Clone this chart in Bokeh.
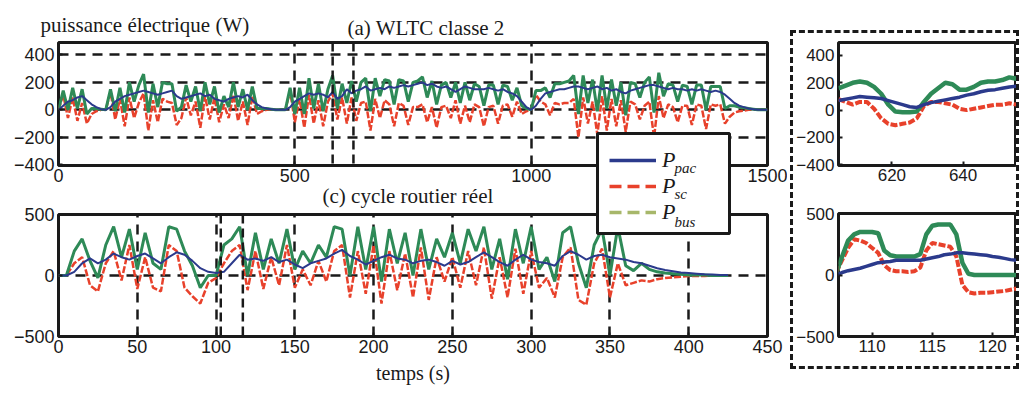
from bokeh.plotting import figure
from bokeh.models import (Range1d, Label, Legend, LegendItem, Span,
                          FixedTicker, BoxAnnotation)
from bokeh.layouts import column, row
from bokeh.embed import file_html
from bokeh.resources import INLINE
from bokeh.core.properties import value

# ---------------- data ----------------
# (a) WLTC classe 2, one sample every 10 s
wltc_t = list(range(0, 1501, 10))
wltc_pac = [0, 30, 60, 70, 90, 100, 70, 40, 20, 5,
            0, 20, 60, 80, 100, 110, 120, 130, 140, 130,
            120, 110, 120, 130, 140, 100, 80, 90, 100, 110,
            120, 100, 110, 80, 70, 60, 80, 90, 100, 90,
            110, 70, 40, 20, 10, 5, 0, 0, 0, 20,
            60, 80, 100, 120, 110, 120, 110, 90, 130, 80,
            100, 150, 120, 140, 150, 170, 140, 150, 160, 150,
            170, 160, 170, 180, 170, 180, 190, 200, 180, 190,
            170, 160, 170, 150, 130, 150, 170, 160, 150, 150,
            150, 160, 150, 140, 150, 130, 120, 100, 60, 20,
            0, 30, 80, 120, 130, 140, 150, 150, 160, 170,
            170, 160, 150, 160, 170, 150, 160, 140, 150, 130,
            120, 140, 150, 160, 170, 180, 180, 170, 160, 150,
            160, 150, 150, 140, 150, 140, 150, 140, 130, 140,
            130, 110, 80, 50, 30, 20, 10, 5, 0, 0,
            0]
wltc_sc = [0, 110, -60, 90, -80, 50, -100, -30, -10, 0,
           0, 130, -70, 80, -120, 90, -60, 50, 120, -150,
           70, -90, 80, 60, 50, -110, -60, 90, -40, 60,
           -130, 100, -70, 90, -90, 40, -60, 110, -80, 60,
           -110, 100, -30, -10, 0, 0, 0, 0, 0, 140,
           -90, 80, -130, 110, -100, 70, -120, 60, 120, -70,
           90, -100, 90, -80, 50, 60, -150, 80, -60, 70,
           40, -120, 50, 30, -110, 20, 20, 40, -90, 20,
           -130, 20, 30, -60, 70, -100, 30, -90, 40, 20,
           -120, 20, 30, -100, 30, 40, -50, 60, -30, -10,
           0, 110, 60, 40, -40, 50, 40, 50, 50, 80,
           -200, 90, -100, 60, -180, 100, -150, 80, -120, 70,
           -160, 60, 40, -70, 30, 60, -200, 100, -60, 40,
           20, -90, 30, 30, -110, 40, 30, -140, 40, 30,
           40, -100, -50, -20, -10, -5, 0, 0, 0, 0,
           0]
wltc_bus = [0, 140, 0, 160, 10, 150, -30, 10, 10, 5,
            0, 150, -10, 160, -20, 200, 60, 180, 260, -20,
            190, 20, 200, 190, 190, -10, 20, 180, 60, 170,
            -10, 200, 40, 170, -20, 100, 20, 200, 20, 150,
            0, 170, 10, 10, 10, 5, 0, 0, 0, 160,
            -30, 160, -30, 230, 10, 190, -10, 150, 250, 10,
            190, 50, 210, 60, 200, 230, -10, 230, 100, 220,
            210, 40, 220, 210, 60, 200, 210, 240, 90, 210,
            40, 180, 200, 90, 200, 50, 200, 70, 190, 170,
            30, 180, 180, 40, 180, 170, 70, 160, 30, 10,
            0, 140, 140, 160, 90, 190, 190, 200, 210, 250,
            -30, 250, 50, 220, -10, 250, 10, 220, 30, 200,
            -40, 200, 190, 90, 200, 240, -20, 270, 100, 190,
            180, 60, 180, 170, 40, 180, 180, 0, 170, 170,
            170, 10, 30, 30, 20, 15, 10, 5, 0, 0,
            0]

# (c) cycle routier reel, one sample every 5 s
road_t = list(range(0, 426, 5))
road_pac = [0, 0, 30, 100, 140, 100, 130, 180, 150, 130,
            160, 180, 140, 100, 150, 190, 170, 120, 60, 30,
            20, 30, 100, 170, 130, 140, 120, 150, 110, 130,
            90, 60, 100, 120, 140, 180, 210, 160, 130, 90,
            120, 150, 170, 140, 130, 100, 120, 130, 110, 80,
            120, 90, 110, 150, 190, 150, 110, 80, 130, 170,
            130, 110, 100, 80, 160, 200, 170, 130, 160, 170,
            150, 140, 130, 110, 100, 80, 60, 45, 35, 25,
            20, 15, 10, 8, 5, 5]
road_sc = [0, 0, 100, 150, -80, -130, 100, 200, -40, 250,
           -110, 150, -100, -130, 250, 200, -100, -170, -230, -60,
           -20, 100, 200, 250, -120, 200, -110, 150, -80, 250,
           -100, 50, -80, 120, -50, 200, 250, -180, 200, -150,
           250, -230, 200, -120, 180, -180, 230, -200, 150, -50,
           150, -100, 200, -80, 230, -190, 150, -180, 220, -150,
           200, -100, -20, -180, 150, 230, -200, -240, 100, 220,
           -180, 100, -80, -60, -40, -50, -30, -20, -15, -10,
           -5, -5, -5, 0, 0, 0]
road_bus = [0, 0, 200, 300, 120, -20, 250, 400, 150, 380,
            50, 350, 100, 50, 400, 380, 200, 80, -100, 0,
            0, 250, 300, 400, 0, 350, 50, 300, 100, 380,
            50, 200, 100, 250, 150, 400, 380, 0, 400, 50,
            400, -50, 380, 100, 350, 0, 380, 50, 300, 150,
            350, 100, 380, 200, 400, 50, 300, -30, 380, 100,
            400, 50, 150, -50, 350, 400, 100, -100, 250, 380,
            0, 400, 80, 40, 100, 50, 30, 20, 15, 10,
            5, 5, 5, 0, 0, 0]

# zoom on WLTC 605-655 s, one sample every 2 s
zw_t = list(range(605, 656, 2))
zw_pac = [70, 80, 90, 100, 95, 90, 85, 70, 55, 40, 25, 20, 40,
          55, 65, 75, 85, 95, 110, 120, 135, 145, 150, 160, 170, 175]
zw_sc = [80, 60, 40, 60, 60, 10, -60, -100, -110, -100, -90, -60, 30,
         60, 60, 50, 40, 10, 0, 10, 20, 30, 40, 40, 50, 40]
zw_bus = [160, 180, 200, 210, 200, 170, 120, 40, -10, -15, -15, -10, 60,
          120, 160, 200, 190, 150, 150, 170, 200, 210, 210, 220, 240, 230]

# zoom on road cycle 107-122 s
zr_t = [107, 107.5, 108, 108.5, 109, 109.5, 110, 110.5, 111, 111.5, 112,
        112.5, 113, 113.5, 114, 114.5, 115, 115.5, 116, 116.5, 117, 117.5,
        118, 118.5, 119, 119.5, 120, 120.5, 121, 121.5, 122]
zr_bus = [15, 150, 280, 330, 350, 350, 350, 340, 200, 160, 150,
          150, 150, 150, 170, 330, 400, 410, 410, 410, 330, 100,
          10, 0, 0, 0, 0, 0, 0, 0, 0]
zr_sc = [20, 120, 220, 290, 280, 260, 220, 180, 80, 40, 30,
         30, 25, 30, 60, 200, 260, 250, 240, 230, 150, -80,
         -140, -150, -145, -145, -140, -135, -130, -120, -110]
zr_pac = [0, 20, 35, 45, 55, 70, 85, 100, 105, 110, 120,
          120, 120, 120, 120, 130, 140, 150, 165, 170, 180, 180,
          175, 170, 165, 160, 150, 145, 135, 125, 120]

wltc_xticks = [0, 500, 1000, 1500]
wltc_yticks = [-400, -200, 0, 200, 400]
road_xticks = [0, 50, 100, 150, 200, 250, 300, 350, 400, 450]
road_yticks = [-500, 0, 500]
zw_xticks = [620, 640]
zr_xticks = [110, 115, 120]
legend_labels = ["P", "P", "P"]
legend_subs = ["pac", "sc", "bus"]

# ---------------- style ----------------
BLUE = "#2b3a8c"
RED = "#e8412b"
GREEN = "#2e8a57"
OLIVE = "#a7b76a"
INK = "#1a1a1a"
SERIF = "Liberation Serif"
SANS = "Liberation Sans"


def make(xr, yr, xt, yt, fw, fh, left, right, top, bottom, fs="18px"):
    p = figure(frame_width=fw, frame_height=fh, x_range=Range1d(*xr),
               y_range=Range1d(*yr), min_border_left=left,
               min_border_right=right, min_border_top=top,
               min_border_bottom=bottom, output_backend="svg",
               toolbar_location=None)
    p.outline_line_color = INK
    p.outline_line_width = 3
    p.outline_line_alpha = 1
    p.xaxis.ticker = xt
    p.yaxis.ticker = yt
    for ax in (p.xaxis[0], p.yaxis[0]):
        ax.axis_line_color = None
        ax.major_tick_in = 4
        ax.major_tick_out = 0
        ax.major_tick_line_color = INK
        ax.major_tick_line_width = 2
        ax.minor_tick_line_color = None
        ax.major_label_text_font = SANS
        ax.major_label_text_font_size = fs
        ax.major_label_text_color = INK
    p.xaxis.major_label_standoff = 3
    p.yaxis.major_label_standoff = 4
    p.xgrid.grid_line_color = None
    p.ygrid.grid_line_color = None
    p.border_fill_alpha = 0
    p.background_fill_color = "white"
    return p


def dash_grid(p, xs, ys):
    if xs:
        p.xgrid.ticker = FixedTicker(ticks=xs)
        p.xgrid.grid_line_color = INK
        p.xgrid.grid_line_dash = "10 7"
        p.xgrid.grid_line_width = 2.5
    if ys:
        p.ygrid.ticker = FixedTicker(ticks=ys)
        p.ygrid.grid_line_color = INK
        p.ygrid.grid_line_dash = "10 7"
        p.ygrid.grid_line_width = 2.5


def series(p, t, pac, sc, bus, w):
    p.line(t, sc, line_color=RED, line_width=w, line_dash="7 2")
    p.line(t, bus, line_color=GREEN, line_width=w + 0.5)
    p.line(t, pac, line_color=BLUE, line_width=w - 0.5)


def marker(p, x):
    p.add_layout(Span(location=x, dimension="height", line_color=INK,
                      line_width=2.5, line_dash="9 5"))


# (a) WLTC main
tm = make((0, 1500), (-405, 490), wltc_xticks, wltc_yticks,
          709, 123, 50, 20, 35, 25)
dash_grid(tm, [500, 1000], [-200, 0, 200, 400])
series(tm, wltc_t, wltc_pac, wltc_sc, wltc_bus, 2.5)
marker(tm, 580)
marker(tm, 624)

# (c) road main
bm = make((0, 450), (-500, 500), road_xticks, road_yticks,
          709, 122, 50, 20, 24, 50)
dash_grid(bm, [50, 100, 150, 200, 250, 300, 350, 400], [0])
series(bm, road_t, road_pac, road_sc, road_bus, 2.5)
marker(bm, 103)
marker(bm, 117)
bm.xaxis.axis_label = "temps (s)"
bm.xaxis.axis_label_text_font = SERIF
bm.xaxis.axis_label_text_font_size = "20px"
bm.xaxis.axis_label_text_font_style = "normal"
bm.xaxis.axis_label_text_color = INK
bm.xaxis.axis_label_standoff = 6

# insets
ti = make((605, 655), (-405, 495), zw_xticks, wltc_yticks,
          178, 123, 39, 0, 9, 25, fs="17px")
series(ti, zw_t, zw_pac, zw_sc, zw_bus, 4)
bi = make((107.2, 122), (-500, 500), zr_xticks, road_yticks,
          178, 123, 39, 0, 23, 30, fs="17px")
series(bi, zr_t, zr_pac, zr_sc, zr_bus, 4)

# transparent overlay (pixel coordinates) carrying the panel titles
# and the legend shared by both panels
ov = figure(frame_width=779, frame_height=379, x_range=Range1d(0, 779),
            y_range=Range1d(0, 379), x_axis_type=None, y_axis_type=None,
            min_border=0, output_backend="svg", toolbar_location=None)
ov.outline_line_color = None
ov.background_fill_alpha = 0
ov.border_fill_alpha = 0
ov.xgrid.grid_line_color = None
ov.ygrid.grid_line_color = None
ov.margin = (-379, 0, 0, 0)
for txt, x, y in (("puissance électrique (W)", 32, 362),
                  ("(a) WLTC classe 2", 339, 359),
                  ("(c) cycle routier réel", 314, 191)):
    ov.add_layout(Label(x=x, y=y, text=txt, text_font=SERIF,
                        text_font_size="21px", text_color=INK,
                        text_baseline="alphabetic"))

# legend frame (white box with black border)
ov.add_layout(BoxAnnotation(left=589, right=721, bottom=153, top=253,
                            fill_color="white", fill_alpha=1,
                            line_color=INK, line_alpha=1, line_width=3))

nan = float("nan")
lg_pac = ov.line([nan], [nan], line_color=BLUE, line_width=3.5)
lg_sc = ov.line([nan], [nan], line_color=RED, line_width=3.5,
                line_dash="12 6")
lg_bus = ov.line([nan], [nan], line_color=OLIVE, line_width=3.5,
                 line_dash="12 6")
leg = Legend(items=[LegendItem(label=value(legend_labels[0]), renderers=[lg_pac]),
                    LegendItem(label=value(legend_labels[1]), renderers=[lg_sc]),
                    LegendItem(label=value(legend_labels[2]), renderers=[lg_bus])],
             location=(601, 161))
leg.margin = 0
leg.padding = 10
leg.spacing = 0
leg.glyph_width = 47
leg.glyph_height = 24
leg.label_height = 24
leg.label_width = 55
leg.label_standoff = 6
leg.label_text_font = SERIF
leg.label_text_font_style = "italic"
leg.label_text_font_size = "22px"
leg.label_text_color = INK
leg.border_line_color = None
leg.background_fill_alpha = 0
ov.add_layout(leg)
for sub, yy in zip(legend_subs, (219, 193, 165)):
    ov.add_layout(Label(x=666, y=yy, text=sub, text_font=SERIF,
                        text_font_style="italic", text_font_size="15px",
                        text_color=INK, text_baseline="alphabetic",
                        level="overlay"))

insets = column(ti, bi, margin=(23, 0, 0, 3),
                styles={"border": "3px dashed #1a1a1a"})
main = row(column(tm, bm), insets)
layout = column(main, ov, margin=(7, 0, 0, 8))

open("out.html", "w").write(file_html(layout, INLINE))
